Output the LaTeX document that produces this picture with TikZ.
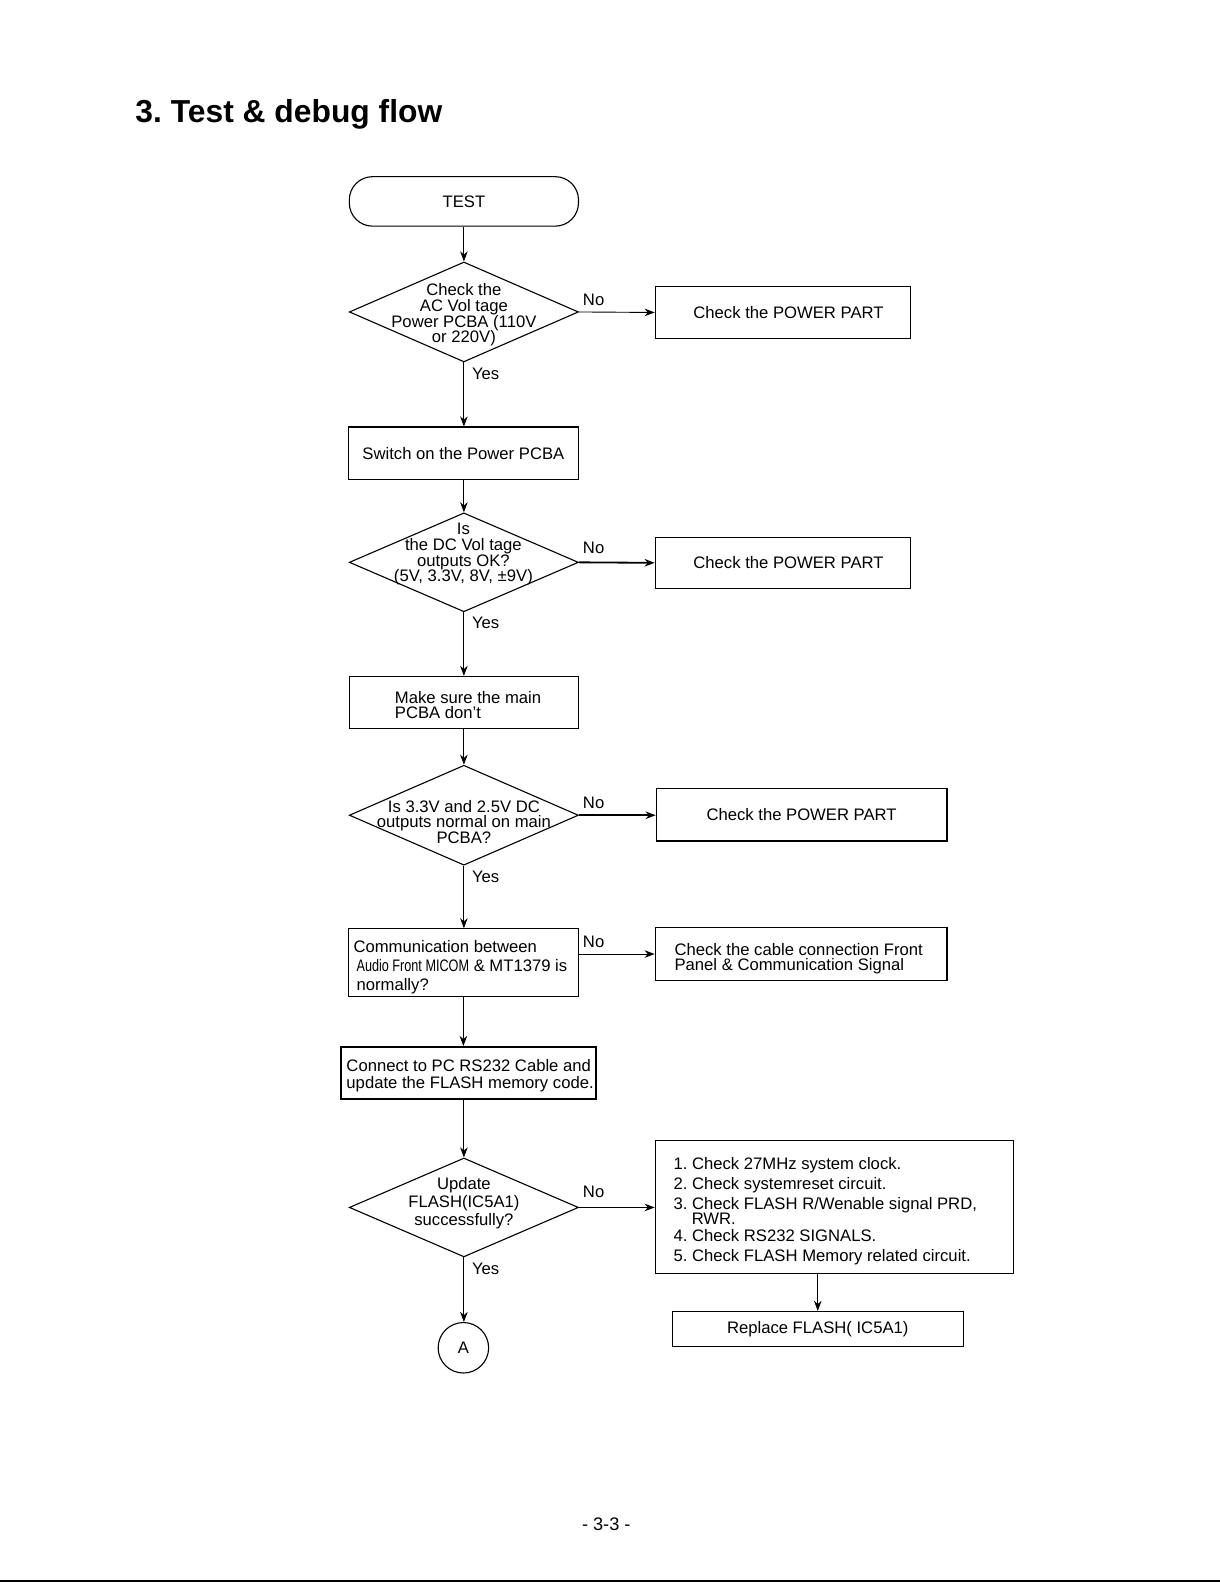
\documentclass[tikz,border=0pt]{standalone}
\usepackage{fontspec}
\usepackage{graphicx}
\setmainfont{Liberation Sans}
\usetikzlibrary{shapes.geometric,arrows.meta}
\frenchspacing
\begin{document}
\begin{tikzpicture}[x=1pt,y=-1pt,
  every node/.style={font=\fontsize{16.5}{15.5}\selectfont, inner sep=0pt},
  flow/.style={draw, line width=1.1pt, anchor=center},
  term/.style={flow, rounded corners=23pt, minimum width=227pt, minimum height=49pt},
  dia/.style={flow, diamond, minimum width=227pt, minimum height=99pt},
  pbox/.style={flow, rectangle},
  txt/.style={inner sep=0pt},
  lab/.style={inner sep=0pt},
  arr/.style={line width=0.9pt, -{Stealth[length=10pt,width=7.5pt]}},
  thickarr/.style={line width=1.8pt, -{Stealth[length=10pt,width=7.5pt]}},
  circ/.style={flow, circle, minimum size=50pt}
]
\useasboundingbox (0,0) rectangle (1208,1568);

% title
\node[anchor=base west, font=\fontsize{31.5}{36}\selectfont\bfseries] (title) at (134,121) {3. Test \& debug flow};

% nodes
\node[term] (test) at (459.5,199.5) {TEST};

\node[dia] (d1) at (459.5,309) {};
\node[txt, align=center] (d1t) at (459.5,312) {Check the\\AC Vol tage\\Power PCBA (110V\\or 220V)};
\node[pbox, minimum width=253pt, minimum height=51pt] (p1) at (775.5,309.5) {\hspace*{11pt}Check the POWER PART};
\node[lab] (n1) at (588,297) {No};
\node[lab] (y1) at (481,370) {Yes};

\node[pbox, minimum width=228pt, minimum height=52pt] (sw) at (459,449) {Switch on the Power PCBA};

\node[dia, minimum height=98pt] (d2) at (459.5,557) {};
\node[txt, align=center] (d2t) at (459,549) {Is\\the DC Vol tage\\outputs OK?\\(5V, 3.3V, 8V, ±9V)};
\node[pbox, minimum width=253pt, minimum height=51pt] (p2) at (775.5,557.5) {\hspace*{11pt}Check the POWER PART};
\node[lab] (n2) at (588,543) {No};
\node[lab] (y2) at (481,617) {Yes};

\node[pbox, minimum width=227pt, minimum height=52pt] (ms) at (459.5,696) {};
\node[txt, anchor=west, align=left, font=\fontsize{16.5}{15}\selectfont] (mst) at (391,698) {Make sure the main\\PCBA don’t};

\node[dia, minimum height=99pt] (d3) at (459.5,807.5) {};
\node[txt, align=center] (d3t) at (459.5,814) {Is 3.3V and 2.5V DC\\outputs normal on main\\PCBA?};
\node[pbox, minimum width=288pt, minimum height=52pt] (p3) at (794,807) {Check the POWER PART};
\node[lab] (n3) at (588,795) {No};
\node[lab] (y3) at (481,869) {Yes};

\node[pbox, minimum width=228pt, minimum height=67pt] (comm) at (459,953.5) {};
\node[txt, anchor=west, align=left, font=\fontsize{16.5}{19}\selectfont] (commt) at (350,958) {Communication between\\\hspace*{3pt}\scalebox{0.76}[1]{Audio Front MICOM} \& MT1379 is\\\hspace*{3pt}normally?};
\node[pbox, minimum width=289pt, minimum height=52pt] (cable) at (793.5,945) {};
\node[txt, anchor=west, align=left, font=\fontsize{16.5}{15}\selectfont] (cablet) at (668,950) {Check the cable connection Front\\Panel \& Communication Signal};
\node[lab] (n4) at (588,933) {No};

\node[pbox, line width=1.9pt, minimum width=252pt, minimum height=52pt] (conn) at (464,1063) {};
\node[txt, anchor=west, align=left, font=\fontsize{16.5}{16}\selectfont] (connt) at (343,1065.5) {Connect to PC RS232 Cable and\\update the FLASH memory code.};

\node[dia, minimum height=98pt] (d4) at (459.5,1196) {};
\node[txt, align=center, font=\fontsize{16.5}{18}\selectfont] (d4t) at (459.5,1192) {Update\\FLASH(IC5A1)\\successfully?};
\node[pbox, minimum width=355pt, minimum height=131pt] (big) at (826.5,1195.5) {};
\node[txt, anchor=west, align=left, font=\fontsize{16.5}{20}\selectfont] (bigt) at (667,1199.5) {1. Check 27MHz system clock.\\2. Check systemreset circuit.\\3. Check FLASH R/Wenable signal PRD,\\[-5pt]\hspace*{18pt}RWR.\\[-4pt]4. Check RS232 SIGNALS.\\5. Check FLASH Memory related circuit.};
\node[lab] (n5) at (588,1181) {No};
\node[lab] (y5) at (481,1257) {Yes};

\node[pbox, minimum width=288pt, minimum height=35pt] (rep) at (810,1316.5) {Replace FLASH( IC5A1)};

\node[circ] (A) at (459,1335) {A};

% page number
\node[font=\fontsize{18}{20}\selectfont] (pg) at (600.5,1510) {- 3-3 -};
\draw[line width=2pt] (0,1566) -- (1208,1566);

% connectors
\draw[arr] (test.south) -- (d1.north);
\draw[arr] (d1.east) -- (p1.west);
\draw[arr] (d1.south) -- (d1.south |- sw.north);
\draw[arr] (d2.north |- sw.south) -- (d2.north);
\draw[thickarr] (d2.east) -- (p2.west);
\draw[arr] (d2.south) -- (d2.south |- ms.north);
\draw[arr] (d3.north |- ms.south) -- (d3.north);
\draw[thickarr] (d3.east) -- (d3.east -| p3.west);
\draw[arr] (d3.south) -- (d3.south |- comm.north);
\draw[arr] (comm.east |- cable.west) -- (cable.west);
\draw[arr] (comm.south) -- (comm.south |- conn.north);
\draw[arr] (d4.north |- conn.south) -- (d4.north);
\draw[arr] (d4.east) -- (d4.east -| big.west);
\draw[arr] (d4.south) -- (d4.south |- A.north);
\draw[arr] (rep.north |- big.south) -- (rep.north);
\end{tikzpicture}
\end{document}
